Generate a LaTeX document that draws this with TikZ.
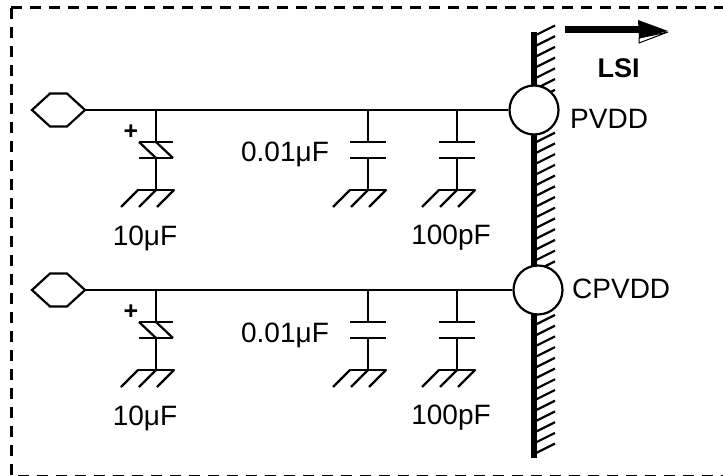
\documentclass[tikz,border=0pt]{standalone}
\usepackage{fontspec}
\setmainfont{Liberation Sans}
\usetikzlibrary{calc}
\tikzset{
  wire/.style={line width=2.2pt,black},
  hexa/.style={line width=2.2pt,draw=black,fill=white},
  pad/.style={circle,draw=black,fill=white,line width=2.2pt,minimum size=49pt,inner sep=0pt},
  lbl/.style={inner sep=0pt,anchor=base,font=\fontsize{28}{30}\selectfont},
  frameline/.style={line width=3pt,dash pattern=on 11pt off 8pt},
}
\newcommand{\gnd}[2]{%
  \draw[wire,line cap=round] (#1-18,#2) -- (#1+18,#2);
  \draw[wire] (#1-18,#2) -- (#1-35,#2+17);
  \draw[wire] (#1,#2) -- (#1-17,#2+17);
  \draw[wire] (#1+18,#2) -- (#1+1,#2+17);
}
\newcommand{\capa}[2]{%
  \draw[wire] (#1,#2) -- (#1,#2+32);
  \draw[wire] (#1-18,#2+32) -- (#1+18,#2+32);
  \draw[wire] (#1-18,#2+48) -- (#1+18,#2+48);
  \draw[wire] (#1,#2+48) -- (#1,#2+80);
  \gnd{#1}{#2+80}
}
\newcommand{\pcap}[2]{%
  \draw[wire] (#1,#2) -- (#1,#2+32);
  \draw[wire] (#1-17,#2+32) -- (#1+17,#2+32);
  \draw[wire] (#1-17,#2+48) -- (#1+17,#2+48);
  \draw[wire] (#1-17,#2+32) -- (#1,#2+48);
  \draw[wire] (#1,#2+32) -- (#1+17,#2+48);
  \draw[wire] (#1,#2+48) -- (#1,#2+80);
  \gnd{#1}{#2+80}
}
\begin{document}
\begin{tikzpicture}[x=1pt,y=-1pt]
\useasboundingbox (0,0) rectangle (723,476);
\clip (0,0) rectangle (723,476);
\draw[frameline] (11,8) -- (730,8);
\draw[frameline] (11,8) -- (11,476.5) -- (730,476.5);
% wall
\foreach \i in {0,...,39}{
  \draw[line width=2.2pt] (536,35+10.72*\i) -- (555,25.5+10.72*\i);
}
\fill (530.5,32) rectangle (536.5,458);
% rails
\coordinate (r1) at (85,110);
\coordinate (r2) at (85,290);
\node[pad] (p1) at (534,110) {};
\node[pad] (p2) at (538,290) {};
\draw[wire] (r1) -- (p1.west);
\draw[wire] (r2) -- (p2.west);
% pins
\draw[hexa] (32,110) -- (50,93.5) -- (67,93.5) -- (85,110) -- (67,126.5) -- (50,126.5) -- cycle;
\draw[hexa] (32,290) -- (50,273.5) -- (67,273.5) -- (85,290) -- (67,306.5) -- (50,306.5) -- cycle;
% caps
\pcap{156}{110}
\capa{368}{110}
\capa{457}{110}
\pcap{156}{290}
\capa{368}{290}
\capa{457}{290}
% labels
\node[inner sep=0pt,font=\fontsize{25}{26}\bfseries\selectfont] (plus1) at (131,132) {+};
\node[inner sep=0pt,font=\fontsize{25}{26}\bfseries\selectfont] (plus2) at (131,312) {+};
\node[lbl] (a) at (145,245) {10μF};
\node[lbl] (b) at (285,162) {0.01μF};
\node[lbl] (c) at (451,244) {100pF};
\node[lbl] (d) at (145,425) {10μF};
\node[lbl] (e) at (285,342) {0.01μF};
\node[lbl] (f) at (451,424) {100pF};
\node[lbl,anchor=base west] (g) at (570,129) {PVDD};
\node[lbl,anchor=base west] (h) at (572,298) {CPVDD};
\node[lbl,font=\fontsize{27}{28}\bfseries\selectfont] (lsi) at (618.5,78) {LSI};
% arrow
\draw[line width=1pt,fill=white] (639,43) -- (668,32) -- (639,38) -- cycle;
\fill (565,26) rectangle (640,33.5);
\fill (638,20) -- (668,31) -- (639,38.5) -- cycle;
\end{tikzpicture}
\end{document}
